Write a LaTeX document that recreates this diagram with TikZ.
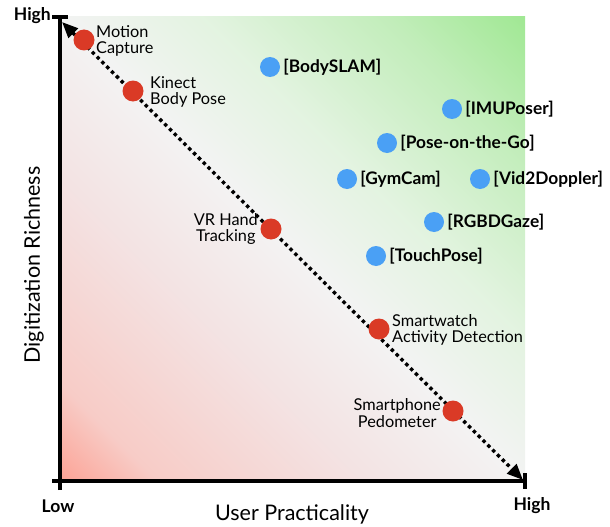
\documentclass[tikz,border=0pt]{standalone}
\usepackage{fontspec}
\setmainfont{Lato}
\usetikzlibrary{arrows.meta}

\definecolor{dotred}{RGB}{218,58,38}
\definecolor{dotblue}{RGB}{74,160,245}

% diagonal field: salmon corner, grey middle, green corner
\pgfdeclarehorizontalshading{practicalfield}{100bp}{%
  rgb(0bp)=(0.99,0.64,0.59);
  rgb(14.6bp)=(0.99,0.64,0.59);
  rgb(22bp)=(0.97,0.80,0.78);
  rgb(37bp)=(0.955,0.885,0.885);
  rgb(50bp)=(0.952,0.952,0.952);
  rgb(61bp)=(0.89,0.955,0.88);
  rgb(75bp)=(0.76,0.93,0.73);
  rgb(85.4bp)=(0.63,0.91,0.58);
  rgb(100bp)=(0.63,0.91,0.58)}

\tikzset{
  redpt/.style={circle, fill=dotred, minimum size=21pt, inner sep=0pt},
  bluept/.style={circle, fill=dotblue, minimum size=20pt, inner sep=0pt},
  lab/.style={font=\fontsize{16.3}{16.5}\selectfont, inner sep=0pt},
  paper/.style={font=\fontsize{17.3}{19}\selectfont\bfseries, inner sep=0pt, anchor=west},
  axisline/.style={line width=3.6pt},
  ticklab/.style={font=\fontsize{17.5}{19}\selectfont\bfseries, inner sep=0pt},
  axistitle/.style={font=\fontsize{21.5}{24}\selectfont, inner sep=0pt},
  trend/.style={line width=3.4pt, dash pattern=on 3.4pt off 3.4pt,
    {Triangle[length=16pt,width=13pt]}-{Triangle[length=16pt,width=13pt]}}
}

\begin{document}
\begin{tikzpicture}[x=1pt,y=-1pt]
\useasboundingbox (0,0) rectangle (610,527);

% shaded field
\shade[shading=practicalfield, shading angle=45] (60,17) rectangle (525,481);

% axes
\coordinate (ybot) at (60,490);
\coordinate (ytop) at (60,17);
\coordinate (xleft) at (52,481);
\coordinate (xright) at (525,481);
\coordinate (ytickl) at (52,17);
\coordinate (ytickr) at (68,17);
\coordinate (xtickt) at (525,473);
\coordinate (xtickb) at (525,489);
\draw[axisline] (ybot) -- (ytop);
\draw[axisline] (xleft) -- (xright);
\draw[axisline] (ytickl) -- (ytickr);
\draw[axisline] (xtickt) -- (xtickb);

\node[ticklab, anchor=east] (yhigh) at (51,16) {High};
\node[ticklab] (xlow) at (58,506) {Low};
\node[ticklab] (xhigh) at (532,506) {High};
\node[axistitle] (xtitle) at (292,514) {User Practicality};
\node[axistitle, rotate=90] (ytitle) at (34,265) {Digitization Richness};

% trade-off diagonal
\coordinate (tstart) at (62,22);
\coordinate (tend) at (523,480);
\draw[trend] (tstart) -- (tend);

% established approaches
\node[redpt] (mocap) at (84,40) {};
\node[redpt] (kinect) at (133,91) {};
\node[redpt] (vr) at (271,229) {};
\node[redpt] (watch) at (379,329) {};
\node[redpt] (phone) at (453,411) {};

\node[lab, anchor=west, align=left] (mocapl) at (96,41) {Motion\\Capture};
\node[lab, anchor=west, align=left] (kinectl) at (150,92) {Kinect\\Body Pose};
\node[lab, anchor=east, align=center] (vrl) at (258,229) {VR Hand\\Tracking};
\node[lab, anchor=west, align=left] (watchl) at (392,330) {Smartwatch\\Activity Detection};
\node[lab, anchor=east, align=center] (phonel) at (441,413) {Smartphone\\Pedometer};

% research systems
\node[bluept] (bodyslam) at (270,67) {};
\node[bluept] (imuposer) at (452,109) {};
\node[bluept] (pose) at (387,143) {};
\node[bluept] (gymcam) at (347,179) {};
\node[bluept] (vid) at (480,179) {};
\node[bluept] (rgbd) at (434,222) {};
\node[bluept] (touch) at (376,256) {};

\node[paper] at ([xshift=3pt]bodyslam.east) {[BodySLAM]};
\node[paper] at ([xshift=3pt]imuposer.east) {[IMUPoser]};
\node[paper] at ([xshift=3pt]pose.east) {[Pose-on-the-Go]};
\node[paper] at ([xshift=3pt]gymcam.east) {[GymCam]};
\node[paper] at ([xshift=3pt]vid.east) {[Vid2Doppler]};
\node[paper] at ([xshift=3pt]rgbd.east) {[RGBDGaze]};
\node[paper] at ([xshift=3pt]touch.east) {[TouchPose]};
\end{tikzpicture}
\end{document}
